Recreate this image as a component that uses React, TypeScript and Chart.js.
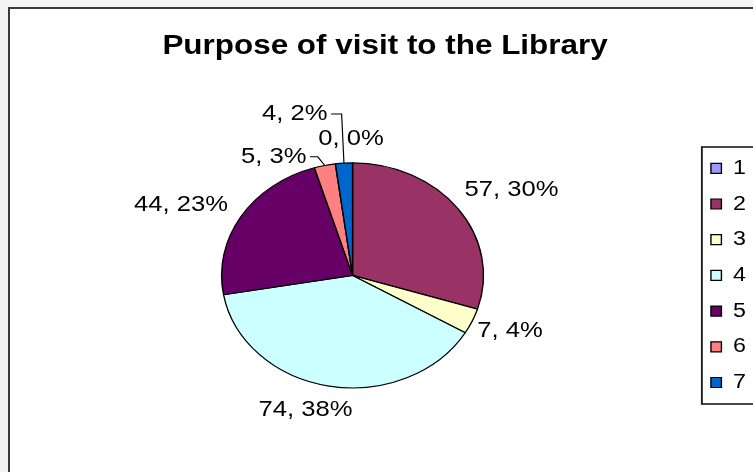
import React, { useEffect, useRef } from 'react';
import { Chart, registerables } from 'chart.js';

Chart.register(...registerables);

// ---------- data ----------
const TITLE = 'Purpose of visit to the Library';
const CATEGORIES = ['1', '2', '3', '4', '5', '6', '7'];
const VALUES = [0, 57, 7, 74, 44, 5, 4];
const PERCENTS = [0, 30, 4, 38, 23, 3, 2];
const COLORS = ['#9999FF', '#993366', '#FFFFCC', '#CCFFFF', '#660066', '#FF8080', '#0066CC'];

// ---------- style ----------
const SX = 1.164; // horizontal stretch of the whole picture
const FONT = '"Liberation Sans", Arial, Helvetica, sans-serif';

// label placement relative to the slice's outer edge point (logical px)
const LABEL_PLACE: { dx: number; dy: number; align: CanvasTextAlign; bend?: number }[] = [
  { dx: -1.3, dy: -24, align: 'center' },
  { dx: 45.9, dy: -19, align: 'center' },
  { dx: 32.6, dy: 9.6, align: 'center' },
  { dx: -20.1, dy: 23.8, align: 'center' },
  { dx: -51.5, dy: -11.6, align: 'center' },
  { dx: -15.7, dy: -8.6, align: 'right', bend: -6 },
  { dx: -14.1, dy: -49.2, align: 'right', bend: -2 },
];

const stretchPlugin = {
  id: 'stretch',
  beforeDraw(chart: any) {
    chart.ctx.save();
    chart.ctx.scale(SX, 1);
  },
  afterDraw(chart: any) {
    chart.ctx.restore();
  },
};

const labelPlugin = {
  id: 'sliceLabels',
  afterDatasetsDraw(chart: any) {
    const ctx = chart.ctx as CanvasRenderingContext2D;
    const meta = chart.getDatasetMeta(0);
    ctx.save();
    ctx.font = `22px ${FONT}`;
    ctx.fillStyle = '#000';
    ctx.strokeStyle = '#000';
    ctx.lineWidth = 1;
    ctx.textBaseline = 'middle';
    meta.data.forEach((arc: any, i: number) => {
      const { x, y, startAngle, endAngle, outerRadius } = arc;
      const mid = (startAngle + endAngle) / 2;
      const ex = x + Math.cos(mid) * outerRadius;
      const ey = y + Math.sin(mid) * outerRadius;
      const p = LABEL_PLACE[i];
      const tx = ex + p.dx;
      const ty = ey + p.dy;
      if (p.bend !== undefined) {
        ctx.beginPath();
        ctx.moveTo(ex, ey);
        ctx.lineTo(ex + p.bend, ty);
        ctx.lineTo(tx + 3, ty);
        ctx.stroke();
      }
      ctx.textAlign = p.align;
      ctx.fillText(`${VALUES[i]}, ${PERCENTS[i]}%`, tx, ty);
    });

    // legend frame
    const lg = chart.legend;
    const hb = lg && lg.legendHitBoxes;
    if (hb && hb.length) {
      const first = hb[0];
      const last = hb[hb.length - 1];
      const left = first.left - 7.8;
      const top = first.top - 11.3;
      const bottom = last.top + last.height + 11.5;
      ctx.lineWidth = 1.6;
      ctx.strokeStyle = '#1a1a1a';
      ctx.strokeRect(left, top, 300, bottom - top);
    }
    ctx.restore();
  },
};

export default function App() {
  const ref = useRef<HTMLCanvasElement>(null);

  useEffect(() => {
    const chart = new Chart(ref.current as HTMLCanvasElement, {
      type: 'pie',
      data: {
        labels: CATEGORIES,
        datasets: [
          {
            data: VALUES,
            backgroundColor: COLORS,
            borderColor: '#000',
            borderWidth: 1.2,
          },
        ],
      },
      options: {
        responsive: false,
        animation: false,
        devicePixelRatio: 1,
        events: [],
        radius: 112.5,
        layout: {
          autoPadding: false,
          padding: { left: 10.7, right: 102.1, top: 0, bottom: 0 },
        },
        plugins: {
          title: {
            display: true,
            text: TITLE,
            color: '#000',
            font: { family: FONT, size: 27, weight: 'bold', lineHeight: 1.2 },
            padding: { top: 30.5, bottom: 15.9 },
          },
          legend: {
            position: 'right',
            fullSize: false,
            labels: {
              boxWidth: 9,
              boxHeight: 10,
              padding: 15.7,
              color: '#000',
              font: { family: FONT, size: 20 },
            },
          },
          tooltip: { enabled: false },
        },
      } as any,
      plugins: [stretchPlugin, labelPlugin],
    });
    return () => chart.destroy();
  }, []);

  return (
    <div
      style={{
        position: 'fixed',
        left: 0,
        top: 0,
        width: 753,
        height: 472,
        background: '#f3f3f3',
        overflow: 'hidden',
      }}
    >
      <div
        style={{
          position: 'absolute',
          left: 8,
          top: 7,
          width: 800,
          height: 520,
          background: '#fff',
          borderLeft: '2px solid #3a3a3a',
          borderTop: '2px solid #3a3a3a',
        }}
      />
      <canvas
        ref={ref}
        width={753}
        height={472}
        style={{ position: 'absolute', left: 0, top: 0, width: 753, height: 472 }}
      />
    </div>
  );
}
